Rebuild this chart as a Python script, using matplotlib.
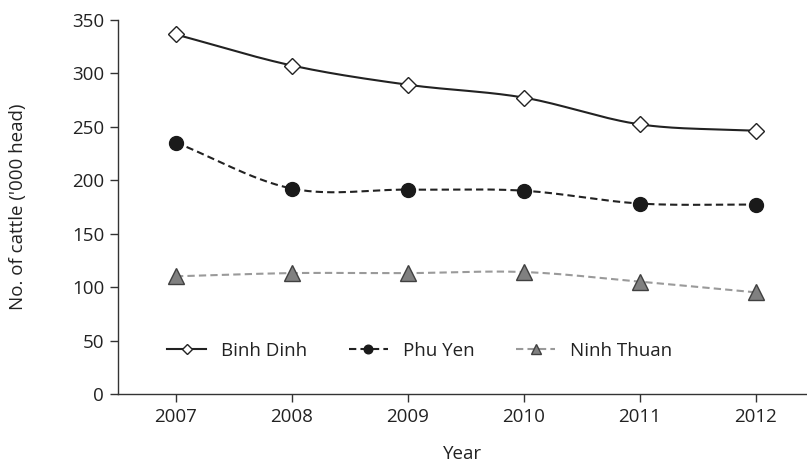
import numpy as np
import matplotlib
matplotlib.use('Agg')
import matplotlib.pyplot as plt
from matplotlib.lines import Line2D

plt.rcParams['font.family'] = ['Open Sans', 'DejaVu Sans']

# data ('000 head)
years = [2007, 2008, 2009, 2010, 2011, 2012]
binh_dinh = [336, 307, 289, 277, 252, 246]
phu_yen = [235, 192, 191, 190, 178, 177]
ninh_thuan = [110, 113, 113, 114, 105, 95]


def smooth(x, y, n=30):
    # catmull-rom curve through the points, like excel "smoothed line"
    x = np.asarray(x, float)
    y = np.asarray(y, float)
    px = np.concatenate([[2 * x[0] - x[1]], x, [2 * x[-1] - x[-2]]])
    py = np.concatenate([[2 * y[0] - y[1]], y, [2 * y[-1] - y[-2]]])
    t = np.linspace(0, 1, n)
    xs, ys = [], []
    for i in range(1, len(px) - 2):
        for p, out in ((px, xs), (py, ys)):
            p0, p1, p2, p3 = p[i - 1], p[i], p[i + 1], p[i + 2]
            out.extend(0.5 * (2 * p1 + (-p0 + p2) * t
                              + (2 * p0 - 5 * p1 + 4 * p2 - p3) * t ** 2
                              + (-p0 + 3 * p1 - 3 * p2 + p3) * t ** 3))
    return xs, ys


fs = 13.5
fig = plt.figure(figsize=(8.07, 4.61), dpi=100)
ax = fig.add_axes([0.1462, 0.1453, 0.8538, 0.8124])

series = [
    ('Binh Dinh', binh_dinh, dict(color='#222222', ls='-'),
     dict(marker='D', ms=8.5, mfc='white', mec='#222222', mew=1.0)),
    ('Phu Yen', phu_yen, dict(color='#222222', ls=(0, (3.5, 2))),
     dict(marker='o', ms=10, mfc='#1a1a1a', mec='#1a1a1a', mew=1.0)),
    ('Ninh Thuan', ninh_thuan, dict(color='#9a9a9a', ls=(0, (3.5, 2))),
     dict(marker='^', ms=12, mfc='#808080', mec='#404040', mew=1.0)),
]

handles = []
for name, vals, lstyle, mstyle in series:
    sx, sy = smooth(years, vals)
    ax.plot(sx, sy, lw=1.5, zorder=2, **lstyle)
    ax.plot(years, vals, ls='none', zorder=3, **mstyle)
    hm = dict(mstyle)
    hm['ms'] = mstyle['ms'] * 0.62
    handles.append(Line2D([], [], lw=1.5, label=name, **lstyle, **hm))

ax.set_xlim(2006.5, 2012.44)
ax.set_ylim(0, 350)
ax.set_xticks(years)
ax.set_yticks(range(0, 351, 50))

for s in ['top', 'right']:
    ax.spines[s].set_visible(False)
for s in ['left', 'bottom']:
    ax.spines[s].set_color('#333333')
    ax.spines[s].set_linewidth(1.0)
ax.tick_params(direction='out', length=6, width=1.0, color='#333333',
               labelsize=fs, labelcolor='#222222', pad=4)

ax.set_xlabel('Year', fontsize=fs, color='#222222')
ax.set_ylabel("No. of cattle ('000 head)", fontsize=fs, color='#222222')
ax.xaxis.set_label_coords(0.5, -0.135)
ax.yaxis.set_label_coords(-0.132, 0.5)

ax.legend(handles=handles, loc='center left', bbox_to_anchor=(0.071, 0.115),
          ncol=3, frameon=False, fontsize=fs, handlelength=2.1,
          handletextpad=0.8, columnspacing=2.2, borderpad=0,
          borderaxespad=0, labelcolor='#222222')

fig.savefig('out.png', dpi=100)
